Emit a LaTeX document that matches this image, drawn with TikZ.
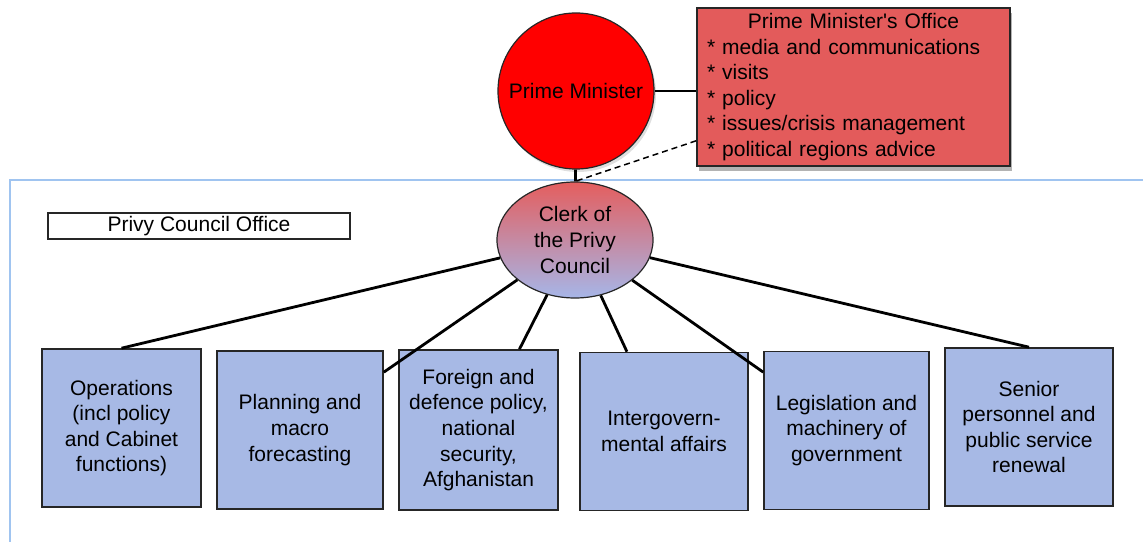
\documentclass[tikz,border=0pt]{standalone}
\usepackage{fontspec}
\setmainfont{Liberation Sans}
\usetikzlibrary{shapes.geometric,shadows}
\definecolor{pmred}{RGB}{255,0,0}
\definecolor{pmored}{RGB}{227,91,91}
\definecolor{clerktop}{RGB}{228,94,94}
\definecolor{clerkbottom}{RGB}{166,182,232}
\definecolor{unitblue}{RGB}{167,185,229}
\definecolor{panelblue}{RGB}{160,196,240}
\tikzset{
  orgtext/.style={font=\fontsize{21}{25.6}\selectfont},
  unitbox/.style={orgtext, draw=black!85, line width=1.6pt, fill=unitblue,
    align=center, minimum height=158pt, inner sep=2pt},
  link/.style={line width=2.8pt}
}

\begin{document}
\begin{tikzpicture}[x=1pt,y=1pt]
\useasboundingbox (0.000000, 0.000000) rectangle (1143.000000, 541.000000);
% Drawing the office panel
\draw[color=panelblue, line width=1.2pt, fill=white] (10.000000, -20.000000) rectangle (1160.000000, 361.000000);
\node[orgtext, draw=black!85, line width=1.2pt, fill=white, minimum width=302pt, minimum height=26pt, inner sep=1pt] (pco) at (199.00, 315.00) {Privy Council Office};
% Done with panel; drawing the top of the tree
\node[orgtext, circle, draw=black!85, line width=1.2pt, fill=pmred, minimum size=156pt, inner sep=0pt,
  drop shadow={opacity=0.25, shadow xshift=2pt, shadow yshift=-3pt}] (pm) at (576.00, 450.00) {Prime Minister};
\node[orgtext, draw=black!85, line width=1.6pt, fill=pmored, text width=293pt, minimum height=158pt, inner xsep=10pt, inner ysep=5pt, align=left,
  drop shadow={opacity=0.6, shadow xshift=2pt, shadow yshift=-5pt}] (pmo) at (853.50, 454.00)
  {\hfill Prime Minister\textquotesingle s Office\hfill\null\\
   {*} media and communications\\
   {*} visits\\
   {*} policy\\
   {*} issues/crisis management\\
   {*} political regions advice};
\node[orgtext, ellipse, draw=black!85, line width=1.2pt, top color=clerktop, bottom color=clerkbottom, minimum width=156pt, minimum height=116pt, inner sep=0pt, align=center] (clerk) at (575.00, 301.00) {Clerk of\\the Privy\\Council};
% Done with top; drawing the branches
\node[unitbox, minimum width=159pt] (ops) at (121.50, 113.00) {Operations\\(incl policy\\and Cabinet\\functions)};
\node[unitbox, minimum width=166pt] (plan) at (300.00, 111.00) {Planning and\\macro\\forecasting};
\node[unitbox, minimum width=159pt, minimum height=160pt] (fdp) at (478.50, 111.00) {Foreign and\\defence policy,\\national\\security,\\Afghanistan};
\node[unitbox, minimum width=168pt] (iga) at (664.00, 109.50) {Intergovern-\\mental affairs};
\node[unitbox, minimum width=165pt] (leg) at (846.50, 110.50) {Legislation and\\machinery of\\government};
\node[unitbox, minimum width=168pt] (spr) at (1029.00, 114.00) {Senior\\personnel and\\public service\\renewal};
% Done with branches; drawing links
\draw[link] (pm.east) -- (pm.east -| pmo.west);
\draw[link] (pm) -- (clerk);
\draw[line width=1.5pt, dash pattern=on 6pt off 4pt] ([yshift=26pt]pmo.south west) -- (clerk.north);
\draw[link] (clerk) -- (ops.north);
\draw[link] (clerk) -- (plan);
\draw[link] (clerk) -- (fdp);
\draw[link] (clerk) -- (iga);
\draw[link] (clerk) -- (leg);
\draw[link] (clerk) -- (spr.north);
% Done with links
\end{tikzpicture}
\end{document}
